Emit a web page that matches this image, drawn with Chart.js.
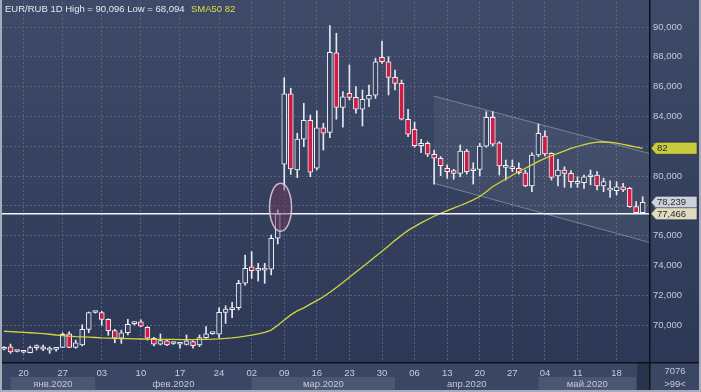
<!DOCTYPE html>
<html>
<head>
<meta charset="utf-8">
<title>EUR/RUB 1D</title>
<script src="https://cdn.jsdelivr.net/npm/chart.js@4.4.0/dist/chart.umd.min.js"></script>
<style>
  html, body { margin: 0; padding: 0; background: #34405e; }
  #grafica { display: block; }
</style>
</head>
<body>
<canvas id="grafica" width="701" height="392"></canvas>
<script>
// one entry per daily candle
var openP = [68.37,68.54,68.24,68.17,68.14,68.48,68.54,68.31,68.36,68.50,
  69.40,68.50,68.66,69.71,70.84,70.83,70.38,69.62,69.11,69.48,
  70.09,70.22,69.84,69.11,68.72,68.93,68.76,68.71,68.70,68.88,
  68.66,69.15,69.42,69.38,70.85,71.03,71.16,72.80,73.91,73.67,
  73.70,73.74,75.82,80.79,85.52,80.40,82.48,83.74,80.52,83.24,
  82.93,88.27,84.61,85.55,85.28,84.48,85.15,85.42,87.97,87.67,
  86.62,86.22,83.81,83.13,82.03,82.19,81.46,81.19,80.52,80.36,
  80.18,81.68,80.35,80.45,82.01,83.94,82.23,80.58,80.49,80.52,
  80.22,79.33,81.41,82.68,81.52,80.00,80.40,80.18,79.51,79.55,
  79.95,80.07,79.33,79.05,79.01,79.28,79.17,77.94,77.54];
var highP = [68.56,68.72,68.27,68.30,68.59,68.66,68.65,68.54,68.50,69.48,
  69.55,68.99,70.02,70.87,70.92,70.92,70.42,69.71,69.66,70.38,
  70.20,70.34,69.89,69.17,69.40,68.98,68.85,68.80,69.33,68.93,
  69.33,69.89,69.50,71.16,71.29,71.52,73.00,74.70,74.92,74.14,
  74.14,76.04,77.72,86.60,85.89,82.87,84.88,84.09,84.38,83.54,
  90.096,89.58,85.66,87.45,86.00,85.77,86.11,87.90,89.06,88.01,
  87.11,86.44,84.48,83.62,82.46,82.30,81.74,81.30,80.74,80.45,
  82.08,81.79,80.89,82.19,84.32,84.32,82.30,81.07,81.07,80.89,
  80.40,81.56,83.49,83.04,81.56,81.12,80.62,80.36,79.95,80.07,
  80.40,80.29,79.85,79.68,79.62,79.51,79.24,78.28,78.61];
var lowP = [68.33,68.10,68.20,68.12,68.12,68.32,68.28,68.094,68.24,68.48,
  68.48,68.44,68.59,69.48,70.80,69.98,69.31,68.81,68.77,69.33,
  70.00,69.89,68.99,68.59,68.66,68.62,68.70,68.44,68.66,68.44,
  68.55,69.11,69.38,69.15,70.11,70.49,71.01,72.68,73.13,72.95,
  72.80,73.36,75.44,79.06,80.11,79.89,81.97,79.95,80.40,81.74,
  82.57,83.81,83.27,85.10,84.21,83.36,84.65,85.21,87.56,85.44,
  85.77,83.76,82.64,81.93,81.56,81.30,79.46,80.02,79.85,79.78,
  79.95,80.13,79.46,80.00,81.93,82.01,80.07,79.73,80.29,80.13,
  79.28,78.95,81.30,81.34,79.73,79.33,79.24,79.24,79.24,79.17,
  79.40,79.06,78.95,78.57,78.72,78.95,77.90,77.47,77.466];
var closeP = [68.50,68.19,68.22,68.20,68.48,68.51,68.37,68.33,68.38,69.38,
  68.50,68.81,69.71,70.83,70.88,70.38,69.62,69.11,69.48,70.05,
  70.12,69.93,69.11,68.72,68.95,68.66,68.78,68.73,68.93,68.61,
  69.15,69.40,69.46,70.85,71.07,71.16,72.80,73.81,73.64,73.70,
  73.68,75.82,77.45,85.52,80.47,82.48,83.74,80.25,83.24,82.87,
  88.30,84.61,85.32,85.28,84.48,85.15,85.42,87.67,87.67,86.62,
  86.22,83.81,82.80,82.03,82.19,81.46,81.19,80.69,80.29,80.18,
  81.68,80.29,80.38,82.01,83.94,82.13,80.67,80.67,80.58,80.22,
  79.33,81.41,82.87,81.48,79.91,80.40,80.18,79.62,79.62,79.95,
  80.05,79.33,79.62,79.08,79.28,79.06,77.94,77.54,78.239];
var sma50 = [69.58,69.56,69.53,69.51,69.48,69.45,69.42,69.38,69.33,69.29,
  69.25,69.22,69.20,69.18,69.16,69.13,69.12,69.10,69.09,69.08,
  69.07,69.06,69.05,69.04,69.04,69.03,69.03,69.02,69.02,69.02,
  69.03,69.04,69.05,69.07,69.10,69.14,69.19,69.25,69.32,69.40,
  69.50,69.66,69.98,70.34,70.68,70.95,71.15,71.40,71.64,71.90,
  72.20,72.52,72.85,73.20,73.55,73.90,74.25,74.60,74.95,75.30,
  75.68,76.02,76.35,76.60,76.85,77.08,77.30,77.50,77.68,77.85,
  78.02,78.20,78.40,78.62,78.95,79.30,79.55,79.80,80.05,80.30,
  80.52,80.75,80.98,81.18,81.36,81.52,81.68,81.85,81.98,82.10,
  82.20,82.28,82.30,82.27,82.20,82.12,82.03,81.94,81.86];

// x axis: candle index of each labelled day, and month rows
var tickIndex = [3,9,15,21,27,33,38,43,48,53,58,63,68,73,78,83,88,94];
var tickDays = ['20','27','03','10','17','24','02','09','16','23','30','06','13','20','27','04','11','18'];
var months = ['янв.2020','фев.2020','мар.2020','апр.2020','май.2020'];
var monthStart = [1,14,38,60,82,97];
var yTicks = [70,72,74,76,78,80,82,84,86,88,90];

// drawn objects
var levelValue = 77.466;
var channelX = [65.9, 98.97];
var channelTop = [85.37, 81.52];
var channelBottom = [79.52, 75.55];
var markX = 42.43, markY = 77.9;

var xMin = -0.31, xMax = 98.97;
var yMin = 67.517, yMax = 91.678;

function fmt(v) {
  return v.toFixed(3).replace('.', ',');
}

var bodies = [], wicks = [], bodyColors = [], smaPoints = [];
for (var i = 0; i < closeP.length; i++) {
  bodies.push({x: i, y: [openP[i], closeP[i]]});
  wicks.push({x: i, y: [lowP[i], highP[i]]});
  bodyColors.push(closeP[i] < openP[i] ? '#cf1b45' : '#35415f');
  smaPoints.push({x: i, y: sma50[i]});
}

var FONT = 'Liberation Sans';

function tag(ctx, x, y, text, bg) {
  ctx.beginPath();
  ctx.moveTo(x, y);
  ctx.lineTo(x + 5, y - 6);
  ctx.lineTo(x + 46, y - 6);
  ctx.lineTo(x + 46, y + 6);
  ctx.lineTo(x + 5, y + 6);
  ctx.closePath();
  ctx.fillStyle = bg;
  ctx.fill();
  ctx.strokeStyle = 'rgba(20,25,35,0.5)';
  ctx.lineWidth = 1;
  ctx.stroke();
  ctx.fillStyle = '#2a2a2a';
  ctx.textAlign = 'left';
  ctx.textBaseline = 'middle';
  ctx.fillText(text, x + 6, y + 0.5);
}

var decor = {
  id: 'decor',
  beforeDraw: function(chart) {
    var ctx = chart.ctx, a = chart.chartArea, xs = chart.scales.x;
    ctx.save();
    var g = ctx.createLinearGradient(0, 0, 0, a.bottom);
    g.addColorStop(0, '#3f4a68');
    g.addColorStop(1, '#2c3856');
    ctx.fillStyle = g;
    ctx.fillRect(0, 0, chart.width, a.bottom);
    // x axis panel
    ctx.fillStyle = '#3a4663';
    ctx.fillRect(0, a.bottom, chart.width, chart.height - a.bottom);
    ctx.fillStyle = '#4a5672';
    for (var k = 0; k < months.length; k += 2) {
      var x1 = xs.getPixelForValue(monthStart[k]);
      var x2 = xs.getPixelForValue(monthStart[k + 1]);
      ctx.fillRect(x1, a.bottom + 15, x2 - x1, 13);
    }
    var xl = xs.getPixelForValue(monthStart[months.length]);
    ctx.fillStyle = '#28334c';
    ctx.fillRect(xl + 1, a.bottom + 1, a.right - xl - 1, chart.height - a.bottom - 3);
    ctx.restore();
  },
  afterDraw: function(chart) {
    var ctx = chart.ctx, a = chart.chartArea, xs = chart.scales.x, ys = chart.scales.y;
    ctx.save();
    // highlight ellipse
    ctx.beginPath();
    ctx.ellipse(xs.getPixelForValue(markX), ys.getPixelForValue(markY), 11, 24, 0, 0, Math.PI * 2);
    ctx.fillStyle = 'rgba(115,55,90,0.45)';
    ctx.fill();
    ctx.strokeStyle = 'rgba(225,205,225,0.85)';
    ctx.lineWidth = 1.5;
    ctx.stroke();

    // month labels
    ctx.font = '9.5px ' + FONT;
    ctx.fillStyle = '#c3cad9';
    ctx.textAlign = 'center';
    ctx.textBaseline = 'middle';
    for (var k = 0; k < months.length; k++) {
      var m = (xs.getPixelForValue(monthStart[k]) + xs.getPixelForValue(monthStart[k + 1])) / 2;
      ctx.fillText(months[k], m, a.bottom + 22);
    }
    ctx.fillText('7076', 675, a.bottom + 9);
    ctx.fillText('>99<', 675, a.bottom + 22);

    // separators
    ctx.fillStyle = '#0e121a';
    ctx.fillRect(a.right, 0, 1.5, chart.height);
    ctx.fillRect(0, a.bottom, chart.width, 1.5);

    // price tags
    var last = closeP.length - 1;
    tag(ctx, a.right + 2, ys.getPixelForValue(sma50[last]), String(Math.round(sma50[last])), '#c9cc3c');
    tag(ctx, a.right + 2, ys.getPixelForValue(closeP[last]), fmt(closeP[last]), '#cdd2da');
    tag(ctx, a.right + 2, ys.getPixelForValue(levelValue), fmt(levelValue), '#dedcc0');

    // header
    ctx.textAlign = 'left';
    ctx.fillStyle = '#e4e8f0';
    ctx.fillText('EUR/RUB 1D High = ' + fmt(Math.max.apply(null, highP)) +
      ' Low = ' + fmt(Math.min.apply(null, lowP)), 5, 9);
    ctx.fillStyle = '#dede3e';
    ctx.fillText('SMA50 ' + Math.round(sma50[last]), 191, 9);

    // frame
    ctx.fillStyle = '#a4abba';
    ctx.fillRect(0, 0, 2, chart.height);
    ctx.fillRect(0, chart.height - 2, chart.width, 2);
    ctx.fillRect(chart.width - 2, 0, 2, chart.height);
    ctx.restore();
  }
};

var ctx = document.getElementById('grafica').getContext('2d');
var chart = new Chart(ctx, {
  type: 'bar',
  data: {
    datasets: [{
      type: 'line',
      data: [{x: xMin, y: levelValue}, {x: xMax, y: levelValue}],
      borderColor: '#f4f6fa',
      borderWidth: 1.5,
      pointRadius: 0,
      order: 0
    }, {
      type: 'line',
      data: smaPoints,
      borderColor: '#d2d63a',
      borderWidth: 1.3,
      pointRadius: 0,
      tension: 0,
      order: 1
    }, {
      data: bodies,
      backgroundColor: bodyColors,
      borderColor: '#f0f2f6',
      borderWidth: 1,
      borderSkipped: false,
      barThickness: 5,
      minBarLength: 2,
      grouped: false,
      order: 2
    }, {
      data: wicks,
      backgroundColor: '#e6e9f0',
      borderWidth: 0,
      barThickness: 1,
      grouped: false,
      order: 3
    }, {
      type: 'line',
      data: [{x: channelX[0], y: channelTop[0]}, {x: channelX[1], y: channelTop[1]}],
      borderColor: 'rgba(190,200,220,0.45)',
      borderWidth: 1,
      pointRadius: 0,
      fill: false,
      order: 5
    }, {
      type: 'line',
      data: [{x: channelX[0], y: channelBottom[0]}, {x: channelX[1], y: channelBottom[1]}],
      borderColor: 'rgba(190,200,220,0.45)',
      backgroundColor: 'rgba(255,255,255,0.06)',
      borderWidth: 1,
      pointRadius: 0,
      fill: '-1',
      order: 4
    }]
  },
  options: {
    responsive: false,
    animation: false,
    layout: { padding: { left: 2, top: 2, right: 0, bottom: 0 } },
    plugins: { legend: { display: false }, tooltip: { enabled: false } },
    scales: {
      x: {
        type: 'linear',
        min: xMin,
        max: xMax,
        offset: false,
        afterBuildTicks: function(s) {
          s.ticks = tickIndex.map(function(v) { return {value: v}; });
        },
        afterFit: function(s) {
          s.height = 30;
          s.paddingLeft = 0;
          s.paddingRight = 0;
        },
        ticks: {
          autoSkip: false,
          maxRotation: 0,
          padding: 6,
          color: '#c6cddb',
          font: { family: FONT, size: 9.5 },
          callback: function(v) {
            var k = tickIndex.indexOf(v);
            return k < 0 ? '' : tickDays[k];
          }
        },
        grid: { color: '#56637f', drawTicks: false, offset: false },
        border: { display: false, dash: [2, 2] }
      },
      y: {
        position: 'right',
        min: yMin,
        max: yMax,
        afterBuildTicks: function(s) {
          s.ticks = yTicks.map(function(v) { return {value: v}; });
        },
        afterFit: function(s) {
          s.width = 52;
          s.paddingTop = 0;
          s.paddingBottom = 0;
        },
        ticks: {
          padding: 4,
          color: '#c3cad9',
          font: { family: FONT, size: 9.5 },
          callback: function(v) { return fmt(v); }
        },
        grid: { color: '#56637f', drawTicks: false },
        border: { display: false, dash: [2, 2] }
      }
    }
  },
  plugins: [decor]
});
</script>
</body>
</html>
